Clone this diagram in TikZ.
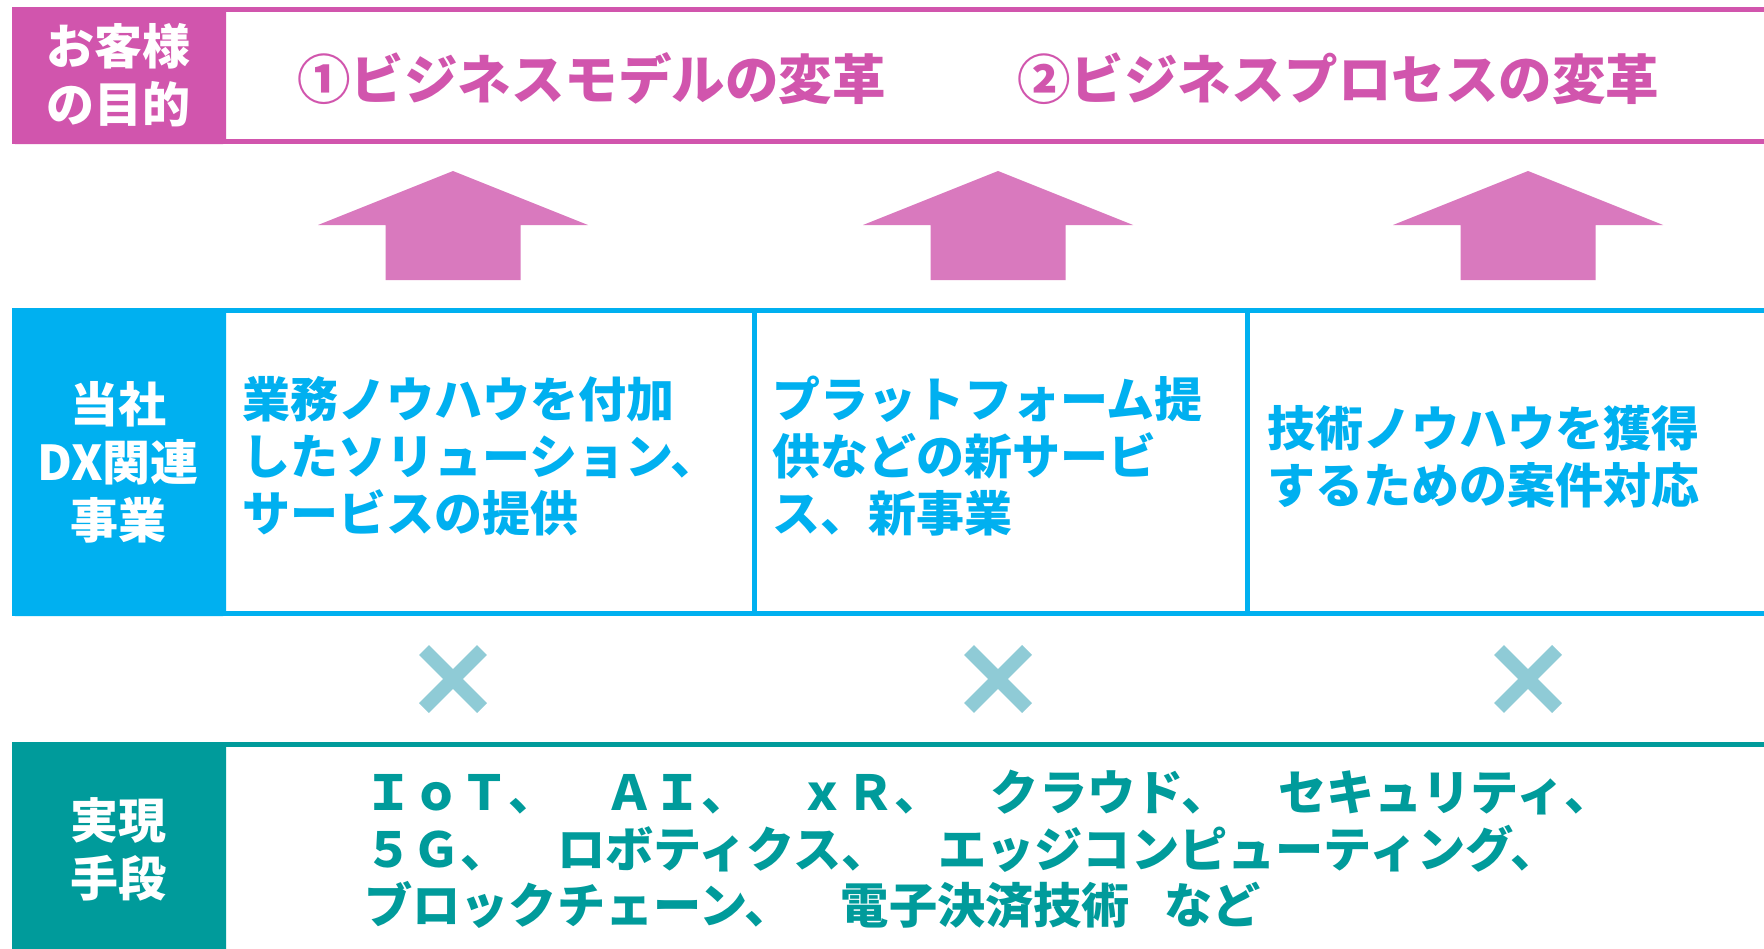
\documentclass[tikz,border=0pt]{standalone}
\usepackage{fontspec}
\newfontfamily\jp{Noto Sans CJK JP}
\definecolor{mag}{RGB}{209,85,173}
\definecolor{magl}{RGB}{217,121,190}
\definecolor{cyanb}{RGB}{0,176,240}
\definecolor{tealb}{RGB}{0,155,155}
\definecolor{crossc}{RGB}{143,203,214}
\begin{document}
\begin{tikzpicture}[x=1pt,y=-1pt,
  lbl/.style={inner sep=0pt,align=center,text=white,font=\jp\bfseries\fontsize{48}{58}\selectfont},
  ttl/.style={inner sep=0pt,anchor=west,text=mag,font=\jp\bfseries\fontsize{53.5}{60}\selectfont},
  btxt/.style={inner sep=0pt,anchor=west,align=left,text=cyanb,font=\jp\bfseries\fontsize{48}{57}\selectfont},
  ttxt/.style={inner sep=0pt,anchor=west,align=left,text=tealb,font=\jp\bfseries\fontsize{48.2}{56.5}\selectfont},
  uparrow/.style={fill=magl},
  cross/.style={draw=crossc,line width=14pt}
]
\useasboundingbox (0,0) rectangle (1764,948);
\fill[white] (0,0) rectangle (1764,948);
% top band
\draw[mag,line width=5pt] (1780,9.5) -- (14.5,9.5) -- (14.5,141.5) -- (1780,141.5);
\fill[mag,rounded corners=3pt] (12,7) rectangle (226,144);
% blue band
\draw[cyanb,line width=5pt] (1780,310.5) -- (14.5,310.5) -- (14.5,613.5) -- (1780,613.5);
\draw[cyanb,line width=5pt] (754.5,310.5) -- (754.5,613.5);
\draw[cyanb,line width=5pt] (1247,310.5) -- (1247,613.5);
\fill[cyanb,rounded corners=3pt] (12,308) rectangle (226,616);
% teal band
\draw[tealb,line width=5pt] (1780,744.5) -- (14.5,744.5) -- (14.5,960);
\fill[tealb,rounded corners=3pt] (12,742) rectangle (226,970);
% arrows
\foreach \cx in {453,998,1528}{
  \fill[uparrow] (\cx-67.5,280) -- (\cx-67.5,225) -- (\cx-135,225) -- (\cx,171)
     -- (\cx+135,225) -- (\cx+67.5,225) -- (\cx+67.5,280) -- cycle;
}
% crosses
\foreach \cx in {453,998,1528}{
  \draw[cross] (\cx-29,650) -- (\cx+29,708);
  \draw[cross] (\cx+29,650) -- (\cx-29,708);
}
% labels
\node[lbl] (l1) at (118,75.5) {お客様\\の目的};
\node[lbl] (l2) at (118,462) {当社\\DX関連\\事業};
\node[lbl] (l3) at (118,849.5) {実現\\手段};
% titles
\node[ttl] (t1) at (297,79) {①ビジネスモデルの変革};
\node[ttl] (t2) at (1017,79) {②ビジネスプロセスの変革};
% blue texts
\node[btxt] (b1) at (242,456) {業務ノウハウを付加\\したソリューション、\\サービスの提供};
\node[btxt] (b2) at (772,456) {プラットフォーム提\\供などの新サービ\\ス、新事業};
\node[btxt] (b3) at (1267,456.5) {技術ノウハウを獲得\\するための案件対応};
% teal text
\node[ttxt] (m1) at (364,849.5) {ＩｏＴ、　ＡＩ、　ｘＲ、　クラウド、　セキュリティ、\\５Ｇ、　ロボティクス、　エッジコンピューティング、\\ブロックチェーン、　電子決済技術\hspace{34pt}など};
\end{tikzpicture}
\end{document}
